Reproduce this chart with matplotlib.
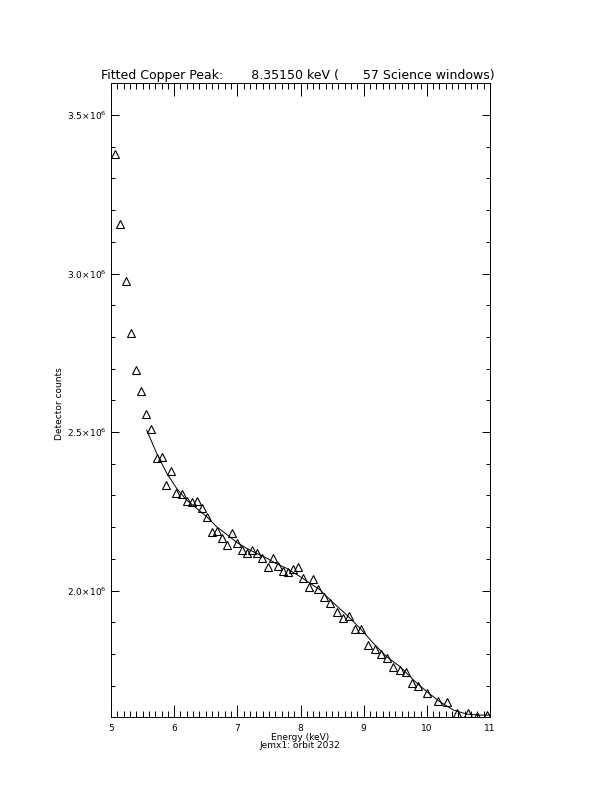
import matplotlib
matplotlib.use("Agg")
import matplotlib.pyplot as plt
from matplotlib.ticker import MultipleLocator, FixedLocator

# Measured spectrum points (energy keV, counts)
energy = [5.068, 5.147, 5.237, 5.317, 5.396, 5.475, 5.554, 5.628, 5.723, 5.803,
          5.875, 5.950, 6.034, 6.119, 6.198, 6.278, 6.357, 6.436, 6.515, 6.599,
          6.678, 6.757, 6.836, 6.920, 6.999, 7.079, 7.158, 7.237, 7.316, 7.395,
          7.481, 7.560, 7.639, 7.718, 7.802, 7.884, 7.960, 8.035, 8.130, 8.203,
          8.282, 8.367, 8.472, 8.573, 8.673, 8.768, 8.867, 8.962, 9.073, 9.175,
          9.274, 9.369, 9.469, 9.570, 9.670, 9.770, 9.868, 10.006, 10.169, 10.324,
          10.485, 10.644, 10.790, 10.948]
counts = [3.377, 3.155, 2.976, 2.811, 2.696, 2.630, 2.556, 2.511, 2.417, 2.422,
          2.333, 2.377, 2.309, 2.303, 2.282, 2.280, 2.283, 2.261, 2.233, 2.185,
          2.188, 2.167, 2.144, 2.182, 2.151, 2.128, 2.119, 2.128, 2.119, 2.102,
          2.073, 2.103, 2.078, 2.063, 2.057, 2.067, 2.075, 2.040, 2.012, 2.036,
          2.005, 1.980, 1.960, 1.931, 1.914, 1.920, 1.879, 1.879, 1.828, 1.815,
          1.801, 1.788, 1.760, 1.748, 1.743, 1.709, 1.699, 1.677, 1.651, 1.649,
          1.614, 1.614, 1.603, 1.606]
counts = [c * 1e6 for c in counts]

# Fitted model curve
fit_energy = [5.565, 5.723, 5.882, 6.040, 6.198, 6.357, 6.515, 6.673, 6.832, 6.990,
              7.148, 7.306, 7.465, 7.623, 7.781, 7.992, 8.309, 8.519, 8.731, 8.942,
              9.152, 9.364, 9.575, 9.786, 9.998, 10.208, 10.419, 10.631, 10.841, 11.0]
fit_counts = [2.506, 2.433, 2.370, 2.322, 2.285, 2.259, 2.233, 2.201, 2.177, 2.152,
              2.133, 2.117, 2.102, 2.084, 2.070, 2.044, 2.002, 1.961, 1.923, 1.881,
              1.834, 1.791, 1.760, 1.718, 1.681, 1.649, 1.623, 1.610, 1.607, 1.607]
fit_counts = [c * 1e6 for c in fit_counts]

y_major = [2.0e6, 2.5e6, 3.0e6, 3.5e6]
y_major_labels = [r'$2.0\!\times\!10^6$', r'$2.5\!\times\!10^6$',
                  r'$3.0\!\times\!10^6$', r'$3.5\!\times\!10^6$']
x_major = [5, 6, 7, 8, 9, 10, 11]

title = "Fitted Copper Peak:       8.35150 keV (      57 Science windows)"
xlabel = "Energy (keV)"
subtitle = "Jemx1: orbit 2032"
ylabel = "Detector counts"

fig = plt.figure(figsize=(6.12, 7.92), dpi=100)
ax = fig.add_axes([111/612, 1 - 717.3/792, (490-111)/612, (717.3-83.3)/792])

ax.plot(energy, counts, linestyle='none', marker='^', markersize=5.5,
        markerfacecolor='none', markeredgecolor='black', markeredgewidth=0.8,
        clip_on=True)
ax.plot(fit_energy, fit_counts, color='black', linewidth=0.7)

ax.set_xlim(5, 11)
ax.set_ylim(1.6e6, 3.6e6)

ax.xaxis.set_major_locator(FixedLocator(x_major))
ax.xaxis.set_minor_locator(MultipleLocator(0.1))
ax.yaxis.set_major_locator(FixedLocator(y_major))
ax.yaxis.set_minor_locator(MultipleLocator(0.1e6))
ax.set_xticklabels([str(v) for v in x_major], fontsize=6.5)
ax.set_yticklabels(y_major_labels, fontsize=6.5)

ax.tick_params(axis='x', which='major', direction='in', length=9, width=0.7,
               top=True, bottom=True, pad=5)
ax.tick_params(axis='x', which='minor', direction='in', length=4.5, width=0.7,
               top=True, bottom=True)
ax.tick_params(axis='y', which='major', direction='in', length=5.8, width=0.7,
               left=True, right=True, pad=3)
ax.tick_params(axis='y', which='minor', direction='in', length=2.9, width=0.7,
               left=True, right=True)
for s in ax.spines.values():
    s.set_linewidth(0.7)

fig.text(298/612, 1 - 75/792, title, ha='center', va='center', fontsize=9)
fig.text(300/612, 1 - 738/792, xlabel, ha='center', va='center', fontsize=6.5)
fig.text(300/612, 1 - 746/792, subtitle, ha='center', va='center', fontsize=6.5)
fig.text(60/612, 1 - 404/792, ylabel, ha='center', va='center', fontsize=6.5,
         rotation=90)

fig.savefig("out.png", dpi=100)
